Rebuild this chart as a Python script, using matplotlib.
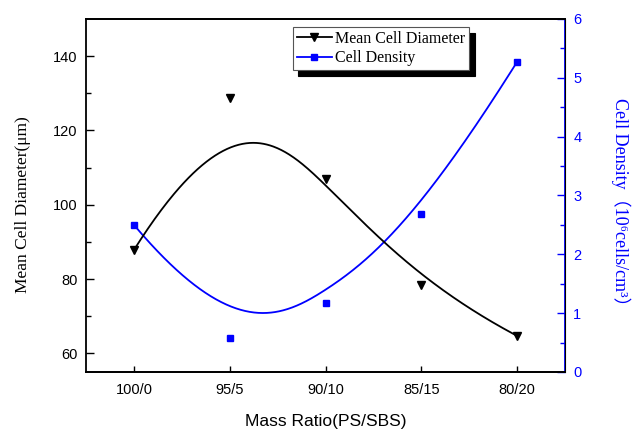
import numpy as np
import matplotlib
matplotlib.use("Agg")
import matplotlib.pyplot as plt
from matplotlib.lines import Line2D

categories = ["100/0", "95/5", "90/10", "85/15", "80/20"]
diameter = [87.8, 128.7, 106.9, 78.4, 64.7]
density = [2.50, 0.57, 1.17, 2.68, 5.27]

SERIF = ["Liberation Serif", "DejaVu Serif", "Noto Sans CJK SC"]
SANS = ["Liberation Sans", "DejaVu Sans"]
BLUE = "#0000ff"


def bspline(px, py, degree=3, n=400):
    """Clamped uniform B-spline using the data points as control points."""
    P = np.column_stack([px, py]).astype(float)
    m = len(P)
    k = degree
    inner = np.arange(1, m - k) / (m - k)
    knots = np.concatenate([np.zeros(k + 1), inner, np.ones(k + 1)])
    t = np.linspace(0, 1, n)
    t[-1] = 1 - 1e-12

    def basis(i, p, tt):
        if p == 0:
            return np.where((knots[i] <= tt) & (tt < knots[i + 1]), 1.0, 0.0)
        out = np.zeros_like(tt)
        d1 = knots[i + p] - knots[i]
        d2 = knots[i + p + 1] - knots[i + 1]
        if d1 > 0:
            out += (tt - knots[i]) / d1 * basis(i, p - 1, tt)
        if d2 > 0:
            out += (knots[i + p + 1] - tt) / d2 * basis(i + 1, p - 1, tt)
        return out

    B = np.column_stack([basis(i, k, t) for i in range(m)])
    C = B @ P
    return C[:, 0], C[:, 1]


fig = plt.figure(figsize=(6.37, 4.29), dpi=100)
ax = fig.add_axes([0.135, 0.133, 0.752, 0.823])
ax2 = ax.twinx()

x = np.arange(len(categories))

bx1, by1 = bspline(x, diameter)
bx2, by2 = bspline(x, density)

ax.plot(bx1, by1, color="black", lw=1.3)
ax.plot(x, diameter, linestyle="none", marker="v", color="black", ms=6)
ax2.plot(bx2, by2, color=BLUE, lw=1.3)
ax2.plot(x, density, linestyle="none", marker="s", color=BLUE, ms=5)

ax.set_xlim(-0.5, 4.5)
ax.set_ylim(55, 150)
ax2.set_ylim(0, 6)
ax.set_xticks(x)
ax.set_xticklabels(categories, family=SANS, fontsize=10.5)
ax.set_yticks([60, 80, 100, 120, 140])
ax.set_yticks([70, 90, 110, 130], minor=True)
ax.tick_params(axis="y", which="major", direction="in", length=6, width=1,
               labelsize=10.5, pad=6)
ax.tick_params(axis="y", which="minor", direction="in", length=3.5, width=1)
ax.tick_params(axis="x", direction="in", length=4, width=1, labelsize=10.5, pad=8)
for lab in ax.get_yticklabels():
    lab.set_family(SANS)

ax2.set_yticks([0, 1, 2, 3, 4, 5, 6])
ax2.set_yticks([0.5, 1.5, 2.5, 3.5, 4.5, 5.5], minor=True)
ax2.tick_params(axis="y", which="major", direction="in", length=6, width=1,
                colors=BLUE, labelsize=10.5, pad=6)
ax2.tick_params(axis="y", which="minor", direction="in", length=3.5, width=1, colors=BLUE)
for lab in ax2.get_yticklabels():
    lab.set_family(SANS)

for s in ["left", "top", "bottom"]:
    ax.spines[s].set_linewidth(1.3)
ax2.spines["right"].set_color(BLUE)
ax2.spines["right"].set_linewidth(1.3)
ax2.spines["left"].set_visible(False)
ax2.spines["top"].set_linewidth(1.3)
ax2.spines["bottom"].set_linewidth(1.3)

ax.set_ylabel("Mean Cell Diameter(μm)", family=SERIF, fontsize=12.5, labelpad=16)
ax.yaxis.label.set_y(0.475)
ax.set_xlabel("Mass Ratio(PS/SBS)", family=SANS, fontsize=12.5, labelpad=12)
ax2.set_ylabel("Cell Density（10⁶cells/cm³）", family=SERIF, fontsize=13,
               color=BLUE, rotation=270, labelpad=35)
ax2.yaxis.label.set_y(0.47)

h1 = Line2D([], [], color="black", marker="v", ms=6, lw=1.3)
h2 = Line2D([], [], color=BLUE, marker="s", ms=5, lw=1.3)
leg = ax.legend([h1, h2], ["Mean Cell Diameter", "Cell Density"],
                loc="upper left", bbox_to_anchor=(0.432, 0.977),
                prop={"family": SERIF, "size": 11.5}, fancybox=False,
                edgecolor="#555555", framealpha=1, borderaxespad=0,
                handlelength=2.2, handletextpad=0.2, borderpad=0.25,
                labelspacing=0.2, shadow={"color": "black", "alpha": 1, "ox": 4, "oy": -4})
leg.get_frame().set_linewidth(0.8)
ax.set_zorder(ax2.get_zorder() + 1)
ax.patch.set_visible(False)

fig.savefig("out.png", dpi=100)
